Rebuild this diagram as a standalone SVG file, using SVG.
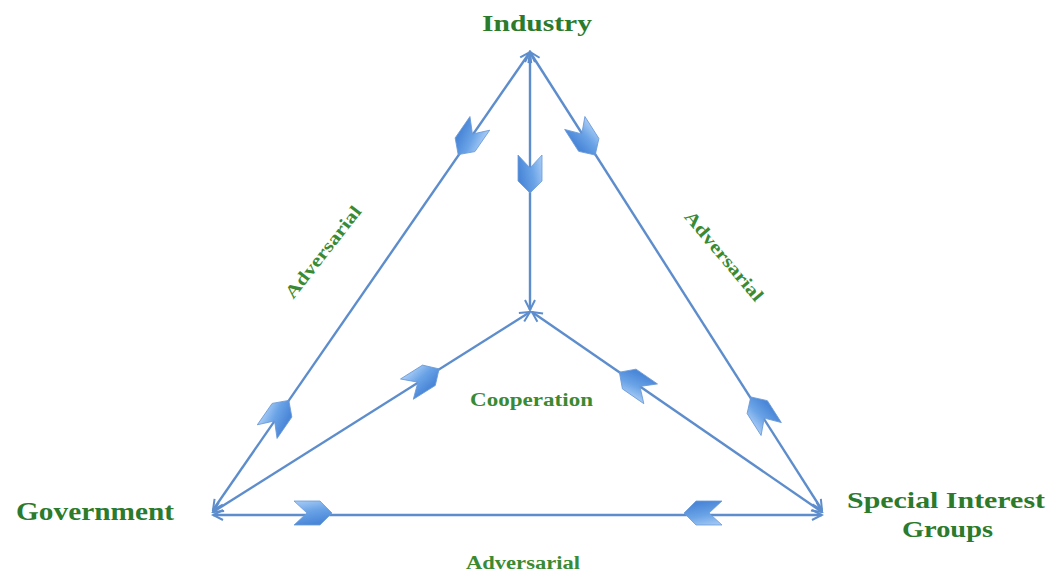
<svg xmlns="http://www.w3.org/2000/svg" width="1051" height="573" viewBox="0 0 1051 573">
  <style>
    .link { fill: none; stroke: #5d8dcc; stroke-width: 2.4; marker-start: url(#tip); marker-end: url(#tip); }
    .label { font-family: "Liberation Serif", "Times New Roman", serif; font-weight: bold; fill: #2c7a2c; }
    .rel { font-family: "Liberation Serif", "Times New Roman", serif; font-weight: bold; fill: #3a8a33; font-size: 18px; }
    .chev { fill: url(#chevFill); stroke: #6a9ad8; stroke-width: 0.8; }
  </style>
  <defs>
    <marker id="tip" viewBox="-12 -7 14 14" refX="0" refY="0" markerWidth="14" markerHeight="14" markerUnits="userSpaceOnUse" orient="auto-start-reverse">
      <path d="M-10,-5 L0,0 L-10,5" fill="none" stroke="#5d8dcc" stroke-width="2"/>
    </marker>
    <linearGradient id="chevFill" x1="0" y1="0" x2="0.3" y2="1">
      <stop offset="0" stop-color="#a9cdf6"/>
      <stop offset="0.5" stop-color="#6aa3e6"/>
      <stop offset="1" stop-color="#4a87d8"/>
    </linearGradient>
    <!-- notched block arrow pointing along +x -->
    <path id="chevron" d="M-19,-12 L7,-12 L19,0 L7,12 L-19,12 L-6,0 Z"/>
  </defs>

  <g id="connectors">
    <line class="link" x1="530" y1="52" x2="213" y2="510"/>
    <line class="link" x1="530" y1="52" x2="822" y2="510"/>
    <line class="link" x1="530" y1="52" x2="530" y2="310"/>
    <line class="link" x1="213" y1="512" x2="530" y2="312"/>
    <line class="link" x1="822" y1="512" x2="532" y2="312"/>
    <line class="link" x1="213" y1="515" x2="822" y2="515"/>

    <use href="#chevron" class="chev" transform="translate(469,139) rotate(124.7)"/>
    <use href="#chevron" class="chev" transform="translate(278,416) rotate(-55.3)"/>
    <use href="#chevron" class="chev" transform="translate(585,139) rotate(57.5)"/>
    <use href="#chevron" class="chev" transform="translate(761,413) rotate(-122.5)"/>
    <use href="#chevron" class="chev" transform="translate(530,174) rotate(90)"/>
    <use href="#chevron" class="chev" transform="translate(423,379) rotate(-32.2)"/>
    <use href="#chevron" class="chev" transform="translate(635,383) rotate(-145.4)"/>
    <use href="#chevron" class="chev" transform="translate(313,513) rotate(0)"/>
    <use href="#chevron" class="chev" transform="translate(703,513) rotate(180)"/>

    <text class="rel" x="0" y="6" text-anchor="middle" textLength="112" lengthAdjust="spacingAndGlyphs" transform="translate(323,252) rotate(-52)">Adversarial</text>
    <text class="rel" x="0" y="6" text-anchor="middle" textLength="112" lengthAdjust="spacingAndGlyphs" transform="translate(724,256) rotate(50)">Adversarial</text>
    <text class="rel" x="466" y="569" textLength="114" lengthAdjust="spacingAndGlyphs">Adversarial</text>
    <text class="rel" x="470" y="406" font-size="19" textLength="123" lengthAdjust="spacingAndGlyphs">Cooperation</text>
  </g>

  <g id="industry">
    <text class="label" x="482" y="31" font-size="24" textLength="110" lengthAdjust="spacingAndGlyphs">Industry</text>
  </g>
  <g id="government">
    <text class="label" x="16" y="520" font-size="25" textLength="158" lengthAdjust="spacingAndGlyphs">Government</text>
  </g>
  <g id="special-interest-groups">
    <text class="label" x="847" y="508" font-size="23" textLength="198" lengthAdjust="spacingAndGlyphs">Special Interest</text>
    <text class="label" x="902" y="537" font-size="23" textLength="91" lengthAdjust="spacingAndGlyphs">Groups</text>
  </g>
</svg>
